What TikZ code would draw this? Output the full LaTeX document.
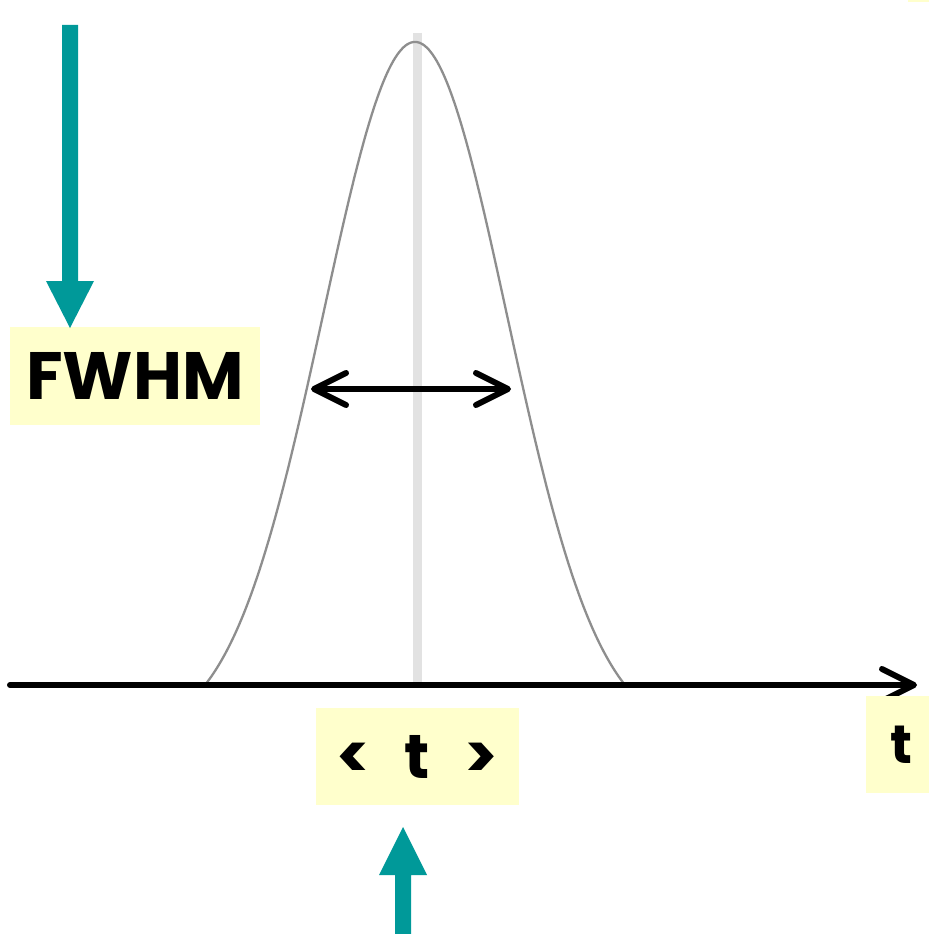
\documentclass[tikz,border=0pt]{standalone}
\usepackage{fontspec}
\setmainfont{Poppins}
\usetikzlibrary{arrows.meta}
\definecolor{tealpointer}{HTML}{009999}
\definecolor{paleyellow}{HTML}{FFFFCC}
\definecolor{curvegray}{HTML}{8E8E8E}
\definecolor{centergray}{HTML}{E2E2E2}
\tikzset{
  labelbox/.style={fill=paleyellow, inner sep=0pt, font=\bfseries, text=black},
  pointer/.style={fill=tealpointer},
  barb/.style={line width=6pt, line cap=round},
  barbtip/.tip={Straight Barb[length=32pt,width=32pt,line cap=round,line join=round]},
}
\begin{document}
\begin{tikzpicture}[x=1pt,y=-1pt]
\useasboundingbox (0,0) rectangle (929,934);
\fill[white] (0,0) rectangle (929,934);
% small yellow sliver at top right
\fill[paleyellow] (908,0) rectangle (929,2);
% centre line
\draw[centergray, line width=9pt] (417,33) -- (417,685);
% bell curve: truncated Gaussian, centre x = 415, sigma = 92 (u in units of 10)
\draw[curvegray, line width=2.3pt, line join=round] plot[domain=-21:21, samples=211, variable=\u]
  ({415+10*\u}, {685 - 643*(exp(-(\u*\u)/(2*9.2*9.2)) - 0.0739)/(1-0.0739)});
% axis
\coordinate (axs) at (10,685);
\coordinate (axe) at (917,685);
\draw[barb, -barbtip] (axs) -- (axe);
% FWHM double arrow
\coordinate (hl) at (311,389);
\coordinate (hr) at (511,389);
\draw[barb, barbtip-barbtip] (hl) -- (hr);
% label boxes
\node[labelbox, minimum width=250pt, minimum height=98pt, font=\bfseries\fontsize{67}{67}\selectfont] (fwhm) at (135,376) {FWHM};
\node[labelbox, minimum width=203pt, minimum height=97pt, font=\bfseries\fontsize{62}{62}\selectfont] (mean) at (417.5,756.5)
  {\makebox[64pt]{<}\makebox[64pt]{t}\makebox[64pt]{>}};
\node[labelbox, minimum width=63pt, minimum height=97pt, font=\bfseries\fontsize{54}{54}\selectfont] (tlab) at (897.5,744.5)
  {\hspace*{7pt}\raisebox{-5pt}{t}};
% teal pointers
\fill[pointer] (62,25) -- (78,25) -- (78,281) -- (94,281) -- (70,328) -- (46,281) -- (62,281) -- cycle;
\fill[pointer] (395,934) -- (411,934) -- (411,875) -- (427,875) -- (403,827) -- (379,875) -- (395,875) -- cycle;
\end{tikzpicture}
\end{document}
